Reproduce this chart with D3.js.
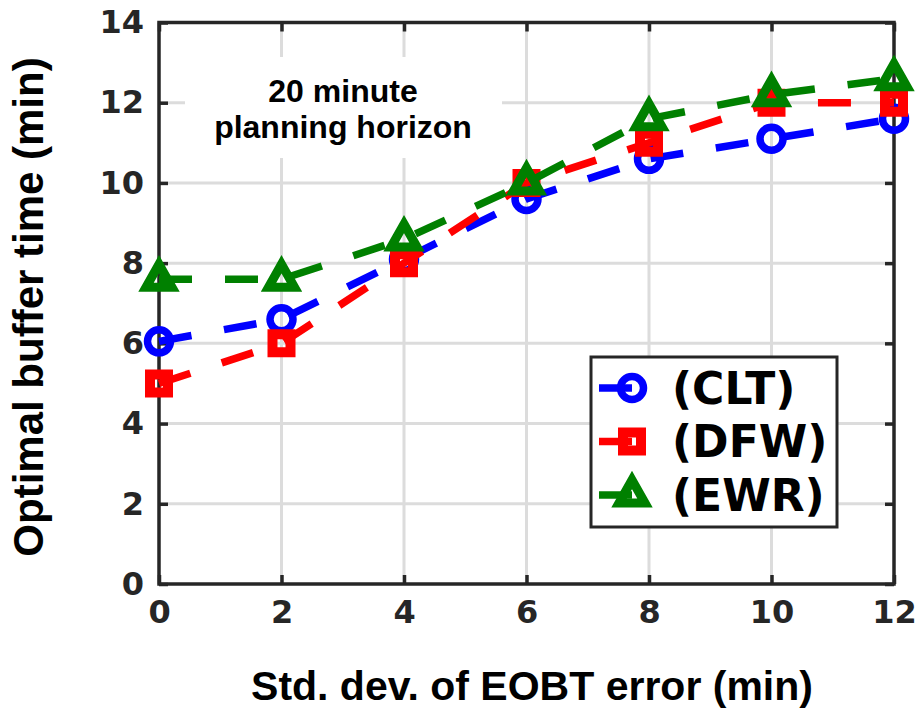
<!DOCTYPE html>
<html><head><meta charset="utf-8">
<script src="https://cdn.jsdelivr.net/npm/d3@7"></script>
<style>body{margin:0;background:#fff}</style>
</head><body><svg id="c" width="920" height="708"></svg>
<script>
const xValues = [0, 2, 4, 6, 8, 10, 12];
const seriesNames = ["(CLT)", "(DFW)", "(EWR)"];
const cltValues = [6.05, 6.6, 8.1, 9.6, 10.6, 11.1, 11.6];
const dfwValues = [5.0, 6.0, 8.0, 10.0, 11.0, 12.0, 12.0];
const ewrValues = [7.6, 7.6, 8.6, 10.0, 11.6, 12.2, 12.6];
const seriesColors = ["#0000ff", "#ff0000", "#008000"];
const seriesMarkers = ["circle", "square", "triangle"];
const xTicks = [0, 2, 4, 6, 8, 10, 12];
const yTicks = [0, 2, 4, 6, 8, 10, 12, 14];
const xLabel = "Std. dev. of EOBT error (min)";
const yLabel = "Optimal buffer time (min)";
const annotation = ["20 minute", "planning horizon"];

const series = [cltValues, dfwValues, ewrValues].map((vals, i) => ({
  name: seriesNames[i], color: seriesColors[i], marker: seriesMarkers[i],
  points: xValues.map((x, j) => ({x, y: vals[j]}))
}));

const svg = d3.select("#c");
const L = 159, R = 894, T = 22.5, B = 584;
const x = d3.scaleLinear().domain([0, 12]).range([L, R]);
const y = d3.scaleLinear().domain([0, 14]).range([B, T]);
const axisColor = "#262626";
const tickFont = "'DejaVu Sans', sans-serif";
const labelFont = "'Liberation Sans', Arial, Helvetica, sans-serif";

// grid
const grid = svg.append("g").attr("stroke", "#dcdcdc").attr("stroke-width", 3);
grid.selectAll("line.v").data(xTicks.slice(1, -1)).join("line")
  .attr("x1", d => x(d)).attr("x2", d => x(d)).attr("y1", T).attr("y2", B);
grid.selectAll("line.h").data(yTicks.slice(1, -1)).join("line")
  .attr("y1", d => y(d)).attr("y2", d => y(d)).attr("x1", L).attr("x2", R);

// annotation background + text
const ann = svg.append("g");
ann.append("rect").attr("x", 185).attr("y", 57).attr("width", 317).attr("height", 101).attr("fill", "#fff");
ann.selectAll("text").data(annotation).join("text")
  .attr("x", 343).attr("y", (d, i) => 102 + i * 36)
  .attr("text-anchor", "middle")
  .attr("font-family", labelFont).attr("font-weight", "bold").attr("font-size", 32)
  .attr("fill", "#000").text(d => d);

// axes (box with inward ticks)
const ax = svg.append("g");
const tickLen = 9;
ax.append("g").attr("transform", `translate(0,${B})`)
  .call(d3.axisBottom(x).tickValues(xTicks).tickSizeInner(-tickLen).tickSizeOuter(0).tickPadding(16).tickFormat(d3.format("d")));
ax.append("g").attr("transform", `translate(0,${T})`)
  .call(d3.axisTop(x).tickValues(xTicks).tickSizeInner(-tickLen).tickSizeOuter(0).tickFormat(""));
ax.append("g").attr("transform", `translate(${L},0)`)
  .call(d3.axisLeft(y).tickValues(yTicks).tickSizeInner(-tickLen).tickSizeOuter(0).tickPadding(15).tickFormat(d3.format("d")));
ax.append("g").attr("transform", `translate(${R},0)`)
  .call(d3.axisRight(y).tickValues(yTicks).tickSizeInner(-tickLen).tickSizeOuter(0).tickFormat(""));
ax.selectAll(".domain").remove();
ax.selectAll(".tick line").attr("stroke", axisColor).attr("stroke-width", 3.5);
ax.selectAll(".tick text").attr("fill", axisColor)
  .attr("font-family", tickFont).attr("font-weight", "bold").attr("font-size", 32);
ax.append("rect").attr("x", L).attr("y", T).attr("width", R - L).attr("height", B - T)
  .attr("fill", "none").attr("stroke", axisColor).attr("stroke-width", 3.5);

// markers
function markerPath(type) {
  if (type === "circle") { const p = d3.path(); p.arc(0, 0, 11.5, 0, 2 * Math.PI); p.closePath(); return p.toString(); }
  if (type === "square") return "M-9,-9H9V9H-9Z";
  return "M0,-15L13,8L-13,8Z";
}
function markerStroke(type) { return type === "square" ? 10 : (type === "circle" ? 7.5 : 9); }

const line = d3.line().x(d => x(d.x)).y(d => y(d.y));
const plot = svg.append("g");
series.forEach(s => {
  const g = plot.append("g");
  g.append("path").datum(s.points).attr("d", line)
    .attr("fill", "none").attr("stroke", s.color).attr("stroke-width", 7.5)
    .attr("stroke-dasharray", "33,33");
  g.selectAll("path.m").data(s.points).join("path").attr("class", "m")
    .attr("transform", d => `translate(${x(d.x)},${y(d.y)})`)
    .attr("d", markerPath(s.marker))
    .attr("fill", "none").attr("stroke", s.color).attr("stroke-width", markerStroke(s.marker))
    .attr("stroke-linejoin", "miter");
});

// legend
const lg = svg.append("g");
lg.append("rect").attr("x", 591).attr("y", 357).attr("width", 246).attr("height", 170)
  .attr("fill", "#fff").attr("stroke", axisColor).attr("stroke-width", 3);
const rows = lg.selectAll("g.row").data(series).join("g").attr("class", "row")
  .attr("transform", (d, i) => `translate(0,${388 + i * 53.5})`);
rows.append("line").attr("x1", 599).attr("x2", 665).attr("y1", 0).attr("y2", 0)
  .attr("stroke", d => d.color).attr("stroke-width", 7.5).attr("stroke-dasharray", "33,33");
rows.append("path").attr("transform", "translate(632,0)")
  .attr("d", d => markerPath(d.marker))
  .attr("fill", "none").attr("stroke", d => d.color).attr("stroke-width", d => markerStroke(d.marker));
rows.append("text").attr("x", 672).attr("y", 0).attr("dy", "0.36em")
  .attr("font-family", tickFont).attr("font-weight", "bold").attr("font-size", 44)
  .attr("fill", "#000").text(d => d.name);

// axis labels
svg.append("text").attr("x", 532).attr("y", 700).attr("text-anchor", "middle")
  .attr("font-family", labelFont).attr("font-weight", "bold").attr("font-size", 41)
  .attr("fill", "#000").text(xLabel);
svg.append("text").attr("transform", "translate(43,307) rotate(-90)").attr("text-anchor", "middle")
  .attr("font-family", labelFont).attr("font-weight", "bold").attr("font-size", 42)
  .attr("fill", "#000").text(yLabel);
</script>
</body></html>
